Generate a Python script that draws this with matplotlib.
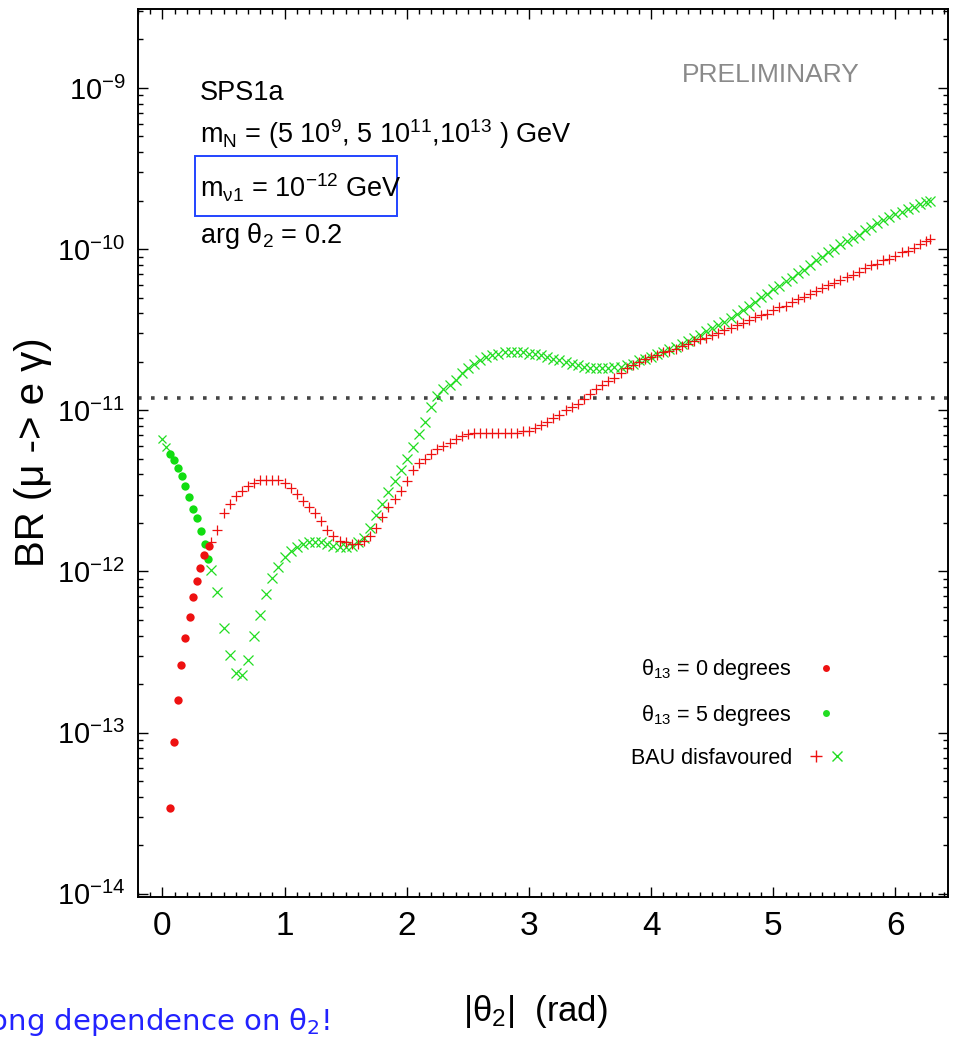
import numpy as np
import matplotlib
matplotlib.use("Agg")
import matplotlib.pyplot as plt
from matplotlib.lines import Line2D
from matplotlib.legend_handler import HandlerTuple
from matplotlib.ticker import FixedLocator, LogLocator, MultipleLocator, FuncFormatter, NullFormatter
import matplotlib.patches as mpatches

plt.rcParams['font.family'] = ['Liberation Sans', 'DejaVu Sans']
plt.rcParams['mathtext.default'] = 'regular'

# ---------------- data (log10 of BR) ----------------
# theta13 = 0 degrees, BAU-favoured points (red dots)
theta_dots_red = [0.06, 0.093, 0.126, 0.155, 0.188, 0.223, 0.251, 0.284, 0.311, 0.343, 0.384]
logbr_dots_red = [-13.47, -13.06, -12.80, -12.58, -12.41, -12.28, -12.16, -12.06, -11.98, -11.90, -11.84]

# theta13 = 5 degrees, BAU-favoured points (green dots)
theta_dots_green = [0.063, 0.094, 0.126, 0.157, 0.188, 0.220, 0.251, 0.283, 0.314, 0.346, 0.377]
logbr_dots_green = [-11.27, -11.31, -11.36, -11.41, -11.47, -11.54, -11.61, -11.67, -11.75, -11.83, -11.92]

# theta13 = 5 degrees, BAU disfavoured at the very start
theta_bau_green_start = [0.0, 0.03]
logbr_bau_green_start = [-11.18, -11.23]

# BAU disfavoured points (red + for theta13=0, green x for theta13=5)
theta_bau = [0.40, 0.45, 0.50, 0.55, 0.60, 0.65, 0.70, 0.75, 0.80, 0.85,
             0.90, 0.95, 1.00, 1.05, 1.10, 1.15, 1.20, 1.25, 1.30, 1.35,
             1.40, 1.45, 1.50, 1.55, 1.60, 1.65, 1.70, 1.75, 1.80, 1.85,
             1.90, 1.95, 2.00, 2.05, 2.10, 2.15, 2.20, 2.25, 2.30, 2.35,
             2.40, 2.45, 2.50, 2.55, 2.60, 2.65, 2.70, 2.75, 2.80, 2.85,
             2.90, 2.95, 3.00, 3.05, 3.10, 3.15, 3.20, 3.25, 3.30, 3.35,
             3.40, 3.45, 3.50, 3.55, 3.60, 3.65, 3.70, 3.75, 3.80, 3.85,
             3.90, 3.95, 4.00, 4.05, 4.10, 4.15, 4.20, 4.25, 4.30, 4.35,
             4.40, 4.45, 4.50, 4.55, 4.60, 4.65, 4.70, 4.75, 4.80, 4.85,
             4.90, 4.95, 5.00, 5.05, 5.10, 5.15, 5.20, 5.25, 5.30, 5.35,
             5.40, 5.45, 5.50, 5.55, 5.60, 5.65, 5.70, 5.75, 5.80, 5.85,
             5.90, 5.95, 6.00, 6.05, 6.10, 6.15, 6.20, 6.25, 6.28]

logbr_bau_red = [-11.82, -11.74, -11.64, -11.58, -11.53, -11.50, -11.47, -11.45, -11.43, -11.43,
                 -11.43, -11.43, -11.45, -11.48, -11.52, -11.56, -11.60, -11.64, -11.69, -11.74,
                 -11.78, -11.81, -11.82, -11.83, -11.83, -11.81, -11.78, -11.73, -11.66, -11.60,
                 -11.55, -11.50, -11.44, -11.37, -11.33, -11.30, -11.27, -11.24, -11.22, -11.20,
                 -11.18, -11.16, -11.15, -11.14, -11.14, -11.14, -11.14, -11.14, -11.14, -11.14,
                 -11.14, -11.13, -11.13, -11.11, -11.09, -11.07, -11.05, -11.03, -11.00, -10.98,
                 -10.96, -10.93, -10.90, -10.87, -10.84, -10.82, -10.80, -10.77, -10.74, -10.72,
                 -10.70, -10.68, -10.67, -10.66, -10.64, -10.63, -10.62, -10.60, -10.59, -10.57,
                 -10.56, -10.55, -10.53, -10.52, -10.50, -10.49, -10.47, -10.46, -10.44, -10.42,
                 -10.41, -10.40, -10.38, -10.36, -10.35, -10.33, -10.31, -10.30, -10.28, -10.26,
                 -10.24, -10.22, -10.21, -10.19, -10.17, -10.16, -10.14, -10.12, -10.10, -10.09,
                 -10.07, -10.06, -10.04, -10.02, -10.01, -9.99, -9.97, -9.95, -9.94]

logbr_bau_green = [-11.99, -12.13, -12.35, -12.52, -12.63, -12.64, -12.55, -12.40, -12.27, -12.14,
                   -12.04, -11.97, -11.91, -11.87, -11.85, -11.83, -11.82, -11.82, -11.82, -11.83,
                   -11.84, -11.85, -11.85, -11.84, -11.82, -11.79, -11.73, -11.65, -11.58, -11.51,
                   -11.44, -11.37, -11.30, -11.23, -11.15, -11.07, -10.98, -10.91, -10.87, -10.84,
                   -10.81, -10.77, -10.74, -10.71, -10.69, -10.67, -10.66, -10.65, -10.64, -10.64,
                   -10.64, -10.64, -10.65, -10.65, -10.66, -10.67, -10.68, -10.69, -10.70, -10.71,
                   -10.72, -10.73, -10.74, -10.74, -10.74, -10.74, -10.73, -10.73, -10.72, -10.71,
                   -10.69, -10.68, -10.67, -10.65, -10.64, -10.62, -10.61, -10.59, -10.57, -10.55,
                   -10.53, -10.51, -10.49, -10.47, -10.45, -10.43, -10.40, -10.38, -10.35, -10.33,
                   -10.30, -10.28, -10.25, -10.23, -10.20, -10.18, -10.15, -10.13, -10.10, -10.07,
                   -10.05, -10.02, -10.00, -9.97, -9.95, -9.93, -9.91, -9.88, -9.86, -9.84,
                   -9.82, -9.80, -9.78, -9.77, -9.75, -9.74, -9.72, -9.71, -9.70]

meg_bound = 1.2e-11

x_ticks = [0, 1, 2, 3, 4, 5, 6]
y_tick_exponents = [-14, -13, -12, -11, -10, -9]

legend_labels = [r'$\theta_{13}$ = 0 degrees', r'$\theta_{13}$ = 5 degrees', 'BAU disfavoured']
info_lines = ['SPS1a',
              r'm$_N$ = (5 10$^9$, 5 10$^{11}$,10$^{13}$ ) GeV',
              r'm$_{\nu1}$ = 10$^{-12}$ GeV',
              r'arg $\theta_2$ = 0.2']

# ---------------- figure ----------------
W, H = 955, 1038
fig = plt.figure(figsize=(W / 100, H / 100), dpi=100)
fx = lambda px: px / W
fy = lambda py: 1 - py / H

ax = fig.add_axes([fx(138), fy(897), fx(948) - fx(138), fy(9) - fy(897)])
ax.set_yscale('log')
ax.set_xlim(-0.2, 6.43)
ax.set_ylim(10 ** -14.02, 10 ** -8.51)

RED = '#ee1111'
GREEN = '#22dd22'

def to_br(logs):
    return 10.0 ** np.asarray(logs)

# dotted MEG bound
ax.axhline(meg_bound, color='#444444', lw=2.6, linestyle=(0, (1, 2.6)), dash_capstyle='butt', zorder=1)

# BAU disfavoured markers
ax.plot(theta_bau_green_start, to_br(logbr_bau_green_start), linestyle='none', marker='x',
        ms=6, mew=0.9, color=GREEN, zorder=2)
ax.plot(theta_bau, to_br(logbr_bau_green), linestyle='none', marker='x',
        ms=6.5, mew=0.9, color=GREEN, zorder=2)
ax.plot(theta_bau, to_br(logbr_bau_red), linestyle='none', marker='+',
        ms=7.5, mew=0.9, color=RED, zorder=3)

# BAU favoured dots
ax.plot(theta_dots_green, to_br(logbr_dots_green), linestyle='none', marker='o',
        ms=6, mew=0, color='#11dd11', zorder=4)
ax.plot(theta_dots_red, to_br(logbr_dots_red), linestyle='none', marker='o',
        ms=6, mew=0, color='#ee1111', zorder=4)

# ticks
ax.xaxis.set_major_locator(FixedLocator(x_ticks))
ax.xaxis.set_minor_locator(MultipleLocator(0.1))
ax.yaxis.set_major_locator(FixedLocator([10.0 ** e for e in y_tick_exponents]))
ax.yaxis.set_minor_locator(LogLocator(base=10, subs=np.arange(2, 10), numticks=20))
ax.yaxis.set_minor_formatter(NullFormatter())
ax.yaxis.set_major_formatter(FuncFormatter(lambda v, p: r'$10^{%d}$' % int(round(np.log10(v)))))
ax.set_xticklabels([str(t) for t in x_ticks])

ax.tick_params(which='both', direction='in', top=True, right=True, width=1.0, color='black')
ax.tick_params(which='major', length=7)
ax.tick_params(which='minor', length=3.5)
ax.tick_params(axis='x', which='major', labelsize=24, pad=10)
ax.tick_params(axis='y', which='major', labelsize=21, pad=9)
for s in ax.spines.values():
    s.set_linewidth(1.4)

# axis labels
ax.set_xlabel(r'|$\theta_2$|  (rad)', fontsize=25)
ax.xaxis.set_label_coords((535 - 138) / 810, -(993 - 897) / 888)
ax.set_ylabel(u'BR (\u03bc -> e \u03b3)', fontsize=29)
ax.yaxis.set_label_coords((52 - 138) / 810, (897 - 452) / 888)

# legend
h_red = Line2D([], [], linestyle='none', marker='o', ms=5, mew=0, color=RED)
h_green = Line2D([], [], linestyle='none', marker='o', ms=5, mew=0, color=GREEN)
h_plus = Line2D([], [], linestyle='none', marker='+', ms=8, mew=1.0, color=RED)
h_x = Line2D([], [], linestyle='none', marker='x', ms=7, mew=1.0, color=GREEN)
leg = ax.legend([h_red, h_green, (h_plus, h_x)], legend_labels,
                handler_map={tuple: HandlerTuple(ndivide=None, pad=0.4)},
                loc='upper right', bbox_to_anchor=(0.895, 0.292), frameon=False,
                markerfirst=False, fontsize=15.5, handlelength=1.6, handletextpad=0.8,
                labelspacing=0.95)

# annotation block
fig.text(fx(200), fy(100), info_lines[0], fontsize=19.5, va='baseline', ha='left')
fig.text(fx(200), fy(143), info_lines[1], fontsize=19.5, va='baseline', ha='left')
fig.text(fx(200), fy(197), info_lines[2], fontsize=19.5, va='baseline', ha='left')
fig.text(fx(200), fy(243), info_lines[3], fontsize=19.5, va='baseline', ha='left')
fig.patches.append(mpatches.Rectangle((fx(195), fy(216)), fx(397) - fx(195), fy(156) - fy(216),
                                      transform=fig.transFigure, fill=False,
                                      edgecolor='#2244ff', lw=1.4))

fig.text(fx(860), fy(82), 'PRELIMINARY', fontsize=19, color='#8a8a8a', ha='right', va='baseline')

# slide remnant text at the bottom-left (clipped by the figure edge, as in the slide)
fig.text(fx(330), fy(1030), r'Strong dependence on $\theta_2$!', fontsize=21, color='#2222ff',
         ha='right', va='baseline', family=['DejaVu Sans'])

fig.savefig('out.png', dpi=100)
